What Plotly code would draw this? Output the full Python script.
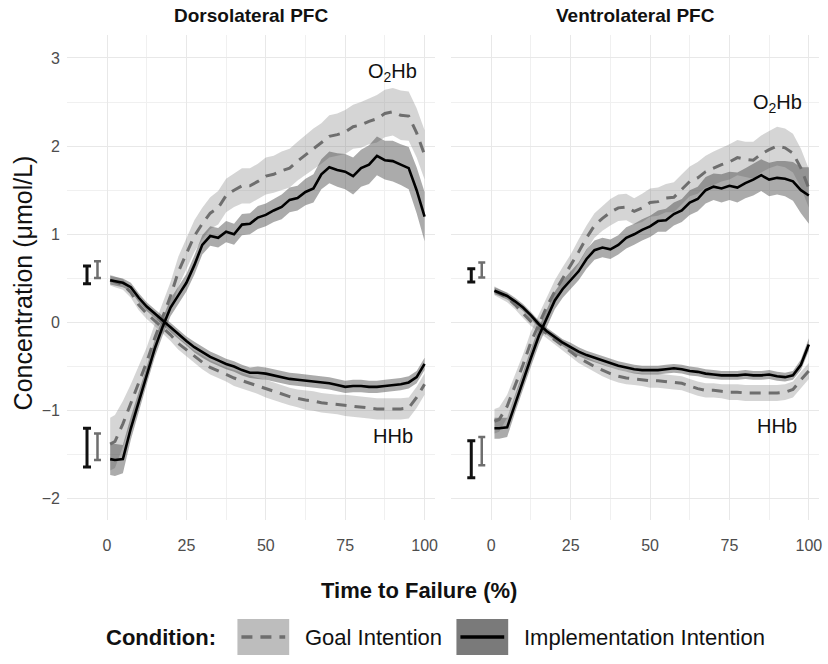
import plotly.graph_objects as go

# ---------------- data ----------------
x = [1, 2.5, 5, 7.5, 10, 12.5, 15, 17.5, 20, 22.5, 25, 27.5, 30, 32.5, 35, 37.5, 40, 42.5, 45, 47.5,
     50, 52.5, 55, 57.5, 60, 62.5, 65, 67.5, 70, 72.5, 75, 77.5, 80, 82.5, 85, 87.5, 90, 92.5, 95, 97.5, 100]

panels = ["Dorsolateral PFC", "Ventrolateral PFC"]

# Dorsolateral PFC
dl_o2_goal = [-1.38, -1.35, -1.15, -0.92, -0.68, -0.45, -0.18, 0.05, 0.30, 0.58, 0.78, 0.98, 1.12, 1.24, 1.30, 1.44,
              1.50, 1.55, 1.55, 1.60, 1.66, 1.68, 1.72, 1.75, 1.83, 1.90, 1.97, 2.03, 2.11, 2.13, 2.16, 2.22, 2.24,
              2.28, 2.31, 2.37, 2.39, 2.35, 2.34, 2.15, 1.90]
dl_o2_impl = [-1.55, -1.56, -1.55, -1.20, -0.90, -0.60, -0.30, -0.05, 0.17, 0.31, 0.45, 0.65, 0.88, 0.98, 0.96, 1.03,
              1.00, 1.11, 1.12, 1.19, 1.22, 1.27, 1.31, 1.39, 1.41, 1.48, 1.52, 1.68, 1.76, 1.73, 1.71, 1.66, 1.75,
              1.79, 1.89, 1.84, 1.83, 1.79, 1.75, 1.50, 1.20]
dl_hhb_goal = [0.48, 0.46, 0.43, 0.34, 0.20, 0.10, 0.02, -0.06, -0.14, -0.24, -0.31, -0.39, -0.45, -0.51, -0.55,
               -0.59, -0.63, -0.66, -0.69, -0.72, -0.75, -0.78, -0.81, -0.84, -0.86, -0.88, -0.89, -0.91, -0.92,
               -0.93, -0.94, -0.95, -0.96, -0.97, -0.98, -0.98, -0.98, -0.98, -0.97, -0.85, -0.70]
dl_hhb_impl = [0.48, 0.47, 0.45, 0.40, 0.28, 0.18, 0.10, 0.02, -0.06, -0.14, -0.21, -0.28, -0.34, -0.39, -0.43,
               -0.47, -0.50, -0.54, -0.57, -0.57, -0.58, -0.60, -0.62, -0.64, -0.65, -0.66, -0.67, -0.68, -0.69,
               -0.71, -0.73, -0.72, -0.72, -0.73, -0.73, -0.72, -0.71, -0.70, -0.68, -0.62, -0.47]
dl_o2_goal_se = [0.30, 0.30, 0.26, 0.22, 0.19, 0.17, 0.16, 0.16, 0.16, 0.17, 0.17, 0.18, 0.18, 0.18, 0.19, 0.19,
                 0.19, 0.20, 0.20, 0.20, 0.21, 0.21, 0.22, 0.22, 0.22, 0.23, 0.23, 0.23, 0.24, 0.24, 0.25, 0.25,
                 0.26, 0.26, 0.27, 0.27, 0.27, 0.28, 0.28, 0.28, 0.28]
dl_o2_impl_se = [0.18, 0.18, 0.16, 0.13, 0.11, 0.10, 0.10, 0.10, 0.10, 0.10, 0.10, 0.11, 0.11, 0.11, 0.11, 0.12,
                 0.12, 0.12, 0.12, 0.13, 0.13, 0.13, 0.14, 0.14, 0.14, 0.15, 0.16, 0.17, 0.18, 0.19, 0.20, 0.21,
                 0.21, 0.22, 0.22, 0.22, 0.23, 0.23, 0.24, 0.26, 0.28]
dl_hhb_goal_se = [0.06, 0.06, 0.06, 0.06, 0.06, 0.06, 0.06, 0.06, 0.07, 0.07, 0.07, 0.07, 0.08, 0.08, 0.08, 0.08,
                  0.09, 0.09, 0.09, 0.09, 0.10, 0.10, 0.10, 0.10, 0.10, 0.11, 0.11, 0.11, 0.11, 0.11, 0.12, 0.12,
                  0.12, 0.12, 0.12, 0.12, 0.12, 0.12, 0.12, 0.12, 0.12]
dl_hhb_impl_se = [0.05, 0.05, 0.05, 0.05, 0.05, 0.05, 0.05, 0.05, 0.05, 0.05, 0.05, 0.06, 0.06, 0.06, 0.06, 0.06,
                  0.06, 0.06, 0.06, 0.07, 0.07, 0.07, 0.07, 0.07, 0.07, 0.07, 0.07, 0.07, 0.07, 0.07, 0.07, 0.07,
                  0.07, 0.07, 0.07, 0.07, 0.07, 0.07, 0.07, 0.07, 0.07]

# Ventrolateral PFC
vl_o2_goal = [-1.12, -1.10, -0.95, -0.72, -0.48, -0.22, -0.02, 0.18, 0.35, 0.50, 0.64, 0.80, 0.96, 1.10, 1.18,
              1.25, 1.30, 1.31, 1.26, 1.30, 1.36, 1.37, 1.41, 1.42, 1.51, 1.60, 1.64, 1.71, 1.75, 1.79, 1.82, 1.87,
              1.85, 1.84, 1.91, 1.96, 2.00, 1.98, 1.92, 1.75, 1.52]
vl_o2_impl = [-1.20, -1.20, -1.19, -0.92, -0.65, -0.40, -0.15, 0.05, 0.25, 0.38, 0.48, 0.58, 0.72, 0.82, 0.85,
              0.83, 0.88, 0.96, 1.00, 1.05, 1.09, 1.15, 1.16, 1.23, 1.27, 1.36, 1.40, 1.50, 1.54, 1.52, 1.55, 1.53,
              1.58, 1.62, 1.67, 1.62, 1.64, 1.63, 1.60, 1.50, 1.44]
vl_hhb_goal = [0.36, 0.33, 0.28, 0.20, 0.10, 0.01, -0.06, -0.13, -0.19, -0.26, -0.33, -0.40, -0.45, -0.50, -0.54,
               -0.58, -0.61, -0.63, -0.64, -0.65, -0.66, -0.66, -0.67, -0.68, -0.69, -0.72, -0.75, -0.77, -0.77,
               -0.78, -0.79, -0.79, -0.80, -0.80, -0.80, -0.80, -0.80, -0.79, -0.76, -0.65, -0.55]
vl_hhb_impl = [0.36, 0.34, 0.30, 0.24, 0.17, 0.08, -0.02, -0.10, -0.17, -0.23, -0.28, -0.33, -0.37, -0.40, -0.43,
               -0.46, -0.49, -0.51, -0.53, -0.54, -0.54, -0.54, -0.53, -0.52, -0.53, -0.55, -0.56, -0.58, -0.59,
               -0.60, -0.60, -0.60, -0.59, -0.60, -0.60, -0.59, -0.61, -0.62, -0.60, -0.48, -0.25]
vl_o2_goal_se = [0.14, 0.14, 0.13, 0.12, 0.12, 0.12, 0.12, 0.12, 0.13, 0.13, 0.13, 0.14, 0.14, 0.14, 0.14, 0.15,
                 0.15, 0.15, 0.15, 0.16, 0.16, 0.16, 0.16, 0.17, 0.17, 0.17, 0.18, 0.18, 0.19, 0.19, 0.20, 0.20,
                 0.20, 0.21, 0.21, 0.21, 0.22, 0.22, 0.22, 0.22, 0.22]
vl_o2_impl_se = [0.12, 0.12, 0.11, 0.10, 0.10, 0.10, 0.10, 0.10, 0.10, 0.10, 0.10, 0.10, 0.11, 0.11, 0.11, 0.11,
                 0.11, 0.12, 0.12, 0.12, 0.12, 0.12, 0.13, 0.13, 0.13, 0.14, 0.14, 0.15, 0.15, 0.16, 0.16, 0.17,
                 0.17, 0.18, 0.18, 0.19, 0.19, 0.20, 0.22, 0.26, 0.32]
vl_hhb_goal_se = [0.05, 0.05, 0.05, 0.05, 0.05, 0.05, 0.05, 0.05, 0.06, 0.06, 0.06, 0.06, 0.06, 0.06, 0.07, 0.07,
                  0.07, 0.07, 0.07, 0.07, 0.08, 0.08, 0.08, 0.08, 0.08, 0.08, 0.08, 0.08, 0.08, 0.08, 0.09, 0.09,
                  0.09, 0.09, 0.09, 0.09, 0.09, 0.09, 0.09, 0.09, 0.09]
vl_hhb_impl_se = [0.04, 0.04, 0.04, 0.04, 0.04, 0.04, 0.04, 0.04, 0.04, 0.04, 0.05, 0.05, 0.05, 0.05, 0.05, 0.05,
                  0.05, 0.05, 0.05, 0.05, 0.05, 0.05, 0.05, 0.05, 0.05, 0.05, 0.05, 0.05, 0.05, 0.05, 0.05, 0.05,
                  0.05, 0.05, 0.05, 0.05, 0.05, 0.05, 0.05, 0.06, 0.07]

# baseline error bars (x position, centre, half-length)
err_x_impl = -6.3
err_x_goal = -3.0
dl_err_impl_y = [0.54, -1.42]
dl_err_impl_e = [0.10, 0.22]
dl_err_goal_y = [0.60, -1.41]
dl_err_goal_e = [0.095, 0.15]
vl_err_impl_y = [0.535, -1.55]
vl_err_impl_e = [0.075, 0.21]
vl_err_goal_y = [0.595, -1.46]
vl_err_goal_e = [0.085, 0.16]

# curve labels
label_x = [90, 90]
dl_label_y = [2.83, -1.29]
vl_label_y = [2.48, -1.17]
curve_labels = ["O<sub>2</sub>Hb", "HHb"]

xticks = [0, 25, 50, 75, 100]
yticks = [-2, -1, 0, 1, 2, 3]
legend_labels = ["Goal Intention", "Implementation Intention"]

# ---------------- styles ----------------
FONT = "Liberation Sans, Arial, sans-serif"
GOAL_LINE = "#6e6e6e"
IMPL_LINE = "#000000"
GOAL_FILL = "rgba(125,125,125,0.32)"
IMPL_FILL = "rgba(60,60,60,0.43)"

fig = go.Figure()


def ribbon(xa, mean, se, fill, xaxis, yaxis):
    up = [m + s for m, s in zip(mean, se)]
    lo = [m - s for m, s in zip(mean, se)]
    fig.add_trace(go.Scatter(x=xa + xa[::-1], y=up + lo[::-1], fill="toself", fillcolor=fill,
                             line=dict(width=0), mode="lines", hoverinfo="skip", showlegend=False,
                             xaxis=xaxis, yaxis=yaxis))


def line(xa, mean, color, dash, width, xaxis, yaxis):
    fig.add_trace(go.Scatter(x=xa, y=mean, mode="lines", line=dict(color=color, dash=dash, width=width),
                             showlegend=False, xaxis=xaxis, yaxis=yaxis))


def errbar(xv, ys, es, color, thick, capw, xaxis, yaxis):
    fig.add_trace(go.Scatter(x=[xv] * len(ys), y=ys, mode="markers", marker=dict(size=0.1, color=color),
                             error_y=dict(type="data", array=es, color=color, thickness=thick, width=capw),
                             showlegend=False, xaxis=xaxis, yaxis=yaxis))


sets = [
    ("x", "y", dl_o2_goal, dl_o2_goal_se, dl_o2_impl, dl_o2_impl_se, dl_hhb_goal, dl_hhb_goal_se,
     dl_hhb_impl, dl_hhb_impl_se, dl_err_impl_y, dl_err_impl_e, dl_err_goal_y, dl_err_goal_e, dl_label_y),
    ("x2", "y2", vl_o2_goal, vl_o2_goal_se, vl_o2_impl, vl_o2_impl_se, vl_hhb_goal, vl_hhb_goal_se,
     vl_hhb_impl, vl_hhb_impl_se, vl_err_impl_y, vl_err_impl_e, vl_err_goal_y, vl_err_goal_e, vl_label_y),
]

for (xa, ya, o2g, o2gs, o2i, o2is, hg, hgs, hi, his, eiy, eie, egy, ege, lab_y) in sets:
    ribbon(x, o2g, o2gs, GOAL_FILL, xa, ya)
    ribbon(x, hg, hgs, GOAL_FILL, xa, ya)
    ribbon(x, o2i, o2is, IMPL_FILL, xa, ya)
    ribbon(x, hi, his, IMPL_FILL, xa, ya)
    line(x, o2g, GOAL_LINE, "11px,8px", 3, xa, ya)
    line(x, hg, GOAL_LINE, "11px,8px", 3, xa, ya)
    line(x, o2i, IMPL_LINE, "solid", 2.6, xa, ya)
    line(x, hi, IMPL_LINE, "solid", 2.6, xa, ya)
    errbar(err_x_impl, eiy, eie, "#111111", 3, 4, xa, ya)
    errbar(err_x_goal, egy, ege, "#6e6e6e", 2.5, 3.5, xa, ya)
    for lx, ly, txt in zip(label_x, lab_y, curve_labels):
        fig.add_annotation(x=lx, y=ly, xref=xa, yref=ya, text=txt, showarrow=False,
                           font=dict(family=FONT, size=20, color="#111111"))

# ---------------- layout ----------------
L, R = 66.8, 822.2
W = R - L
TOP, BOT = 35, 520
H = BOT - TOP


def px_x(p):
    return (p - L) / W


def px_y(p):
    return (BOT - p) / H


d1 = [0, px_x(436.2)]
d2 = [px_x(452.8), 1]

axis_common = dict(range=[-12.6, 103.2], tickvals=xticks, showgrid=True, gridcolor="#e8e8e8", gridwidth=1.2,
                   zeroline=False, showline=False, ticks="", ticklabelstandoff=14,
                   tickfont=dict(family=FONT, size=16, color="#4d4d4d"),
                   minor=dict(dtick=12.5, tick0=-12.5, showgrid=True, gridcolor="#f0f0f0", gridwidth=0.8))
yaxis_common = dict(range=[-2.24, 3.26], tickvals=yticks, showgrid=True, gridcolor="#e8e8e8", gridwidth=1.2,
                    zeroline=False, showline=False, ticks="", ticklabelstandoff=6,
                    tickfont=dict(family=FONT, size=16, color="#4d4d4d"),
                    minor=dict(dtick=0.5, tick0=-2.5, showgrid=True, gridcolor="#f0f0f0", gridwidth=0.8))

fig.update_layout(
    width=828, height=664,
    margin=dict(l=67, r=6, t=35, b=144),
    paper_bgcolor="white", plot_bgcolor="white",
    xaxis=dict(domain=d1, anchor="y", **axis_common),
    xaxis2=dict(domain=d2, anchor="y2", **axis_common),
    yaxis=dict(anchor="x", **yaxis_common),
    yaxis2=dict(anchor="x2", showticklabels=False, **{k: v for k, v in yaxis_common.items() if k != "tickfont"}),
    showlegend=False,
)

# panel titles
for name, dom in zip(panels, [d1, d2]):
    fig.add_annotation(x=(dom[0] + dom[1]) / 2, y=px_y(16), xref="paper", yref="paper", text="<b>%s</b>" % name,
                       showarrow=False, font=dict(family=FONT, size=19, color="#111111"),
                       xanchor="center", yanchor="middle")

# axis titles
fig.add_annotation(x=px_x(420), y=px_y(590), xref="paper", yref="paper", text="<b>Time to Failure (%)</b>",
                   showarrow=False, font=dict(family=FONT, size=22, color="#111111"),
                   xanchor="center", yanchor="middle")
fig.add_annotation(x=px_x(23), y=px_y(283), xref="paper", yref="paper", text="Concentration (μmol/L)",
                   textangle=-90, showarrow=False, font=dict(family=FONT, size=25, color="#111111"),
                   xanchor="center", yanchor="middle")

# legend drawn manually
LY = 637
fig.add_annotation(x=px_x(218), y=px_y(LY), xref="paper", yref="paper", text="<b>Condition:</b>",
                   showarrow=False, xanchor="right", yanchor="middle",
                   font=dict(family=FONT, size=22, color="#111111"))
keys = [(238, 290, "#bdbdbd", GOAL_LINE, "11px,8px", 304), (458, 510, "#7a7a7a", "#000000", "solid", 524)]
for (x0, x1, fc, lc, dash, tx), lab in zip(keys, legend_labels):
    fig.add_shape(type="rect", xref="paper", yref="paper", x0=px_x(x0), x1=px_x(x1), y0=px_y(LY + 18),
                  y1=px_y(LY - 18), fillcolor=fc, line=dict(width=0))
    fig.add_shape(type="line", xref="paper", yref="paper", x0=px_x(x0 + 4), x1=px_x(x1 - 4), y0=px_y(LY),
                  y1=px_y(LY), line=dict(color=lc, width=3.5, dash=dash))
    fig.add_annotation(x=px_x(tx), y=px_y(LY), xref="paper", yref="paper", text=lab, showarrow=False,
                       xanchor="left", yanchor="middle", font=dict(family=FONT, size=22, color="#111111"))

fig.write_html("out.html", config={"displayModeBar": False},
               post_script="document.body.style.margin='0px';document.body.style.padding='0px';")
